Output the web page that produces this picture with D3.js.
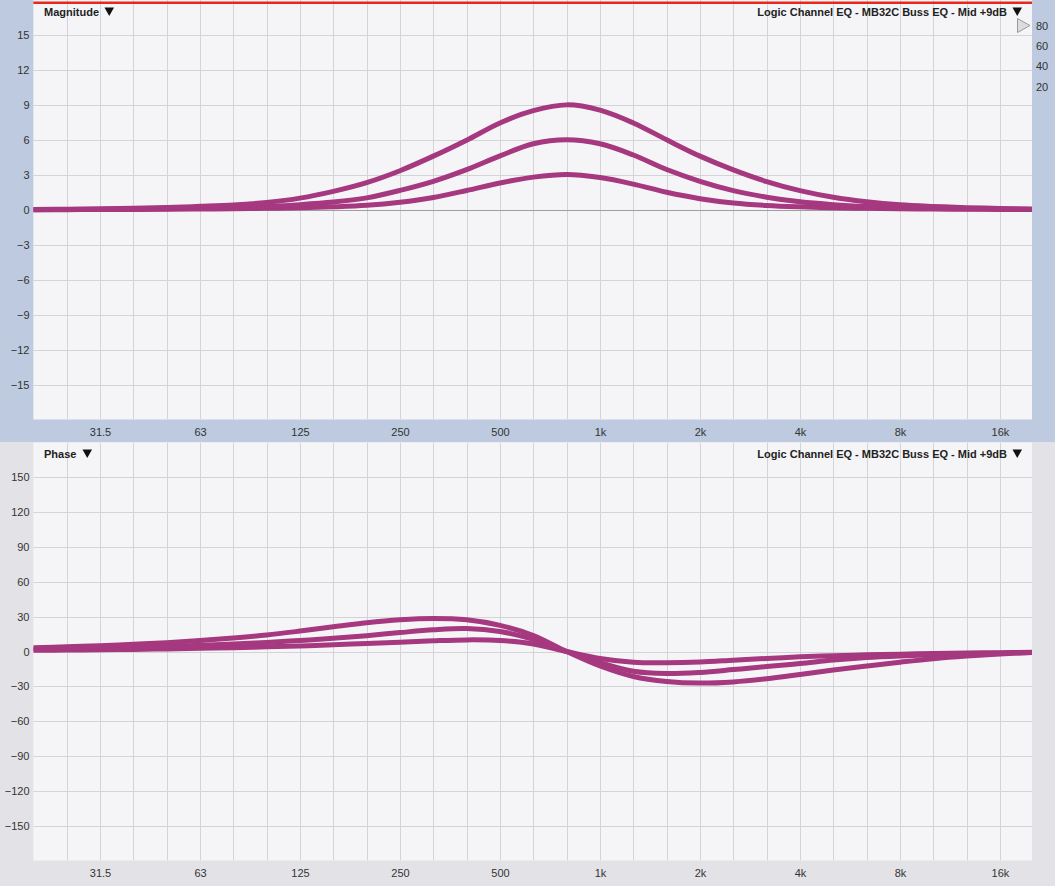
<!DOCTYPE html>
<html><head><meta charset="utf-8">
<script src="https://cdn.jsdelivr.net/npm/d3@7"></script>
<style>
html,body{margin:0;padding:0;background:#fff;}
svg{display:block;font-family:"Liberation Sans",Arial,Helvetica,sans-serif;}
</style></head>
<body><svg id="c" width="1055" height="886"></svg>
<script>
// ---- data ----
const freqs = [20, 25.2, 31.7, 40, 50.4, 63.5, 80, 100.8, 127, 160, 201.6, 254, 320, 403, 508, 640, 806,
  1016, 1280, 1613, 2032, 2560, 3225, 4064, 5120, 6451, 8128, 10240, 12902, 16255, 20480];
const mag9 = [0.03, 0.05, 0.08, 0.12, 0.19, 0.29, 0.41, 0.63, 1.0, 1.58, 2.33, 3.35, 4.6, 5.97, 7.45, 8.5, 9.0,
  8.55, 7.45, 6.0, 4.6, 3.42, 2.42, 1.64, 1.07, 0.68, 0.42, 0.28, 0.18, 0.11, 0.06];
const mag6 = [0.01, 0.02, 0.03, 0.05, 0.08, 0.13, 0.19, 0.29, 0.44, 0.66, 1.02, 1.66, 2.44, 3.44, 4.62, 5.66, 6.0,
  5.66, 4.7, 3.45, 2.44, 1.64, 1.08, 0.68, 0.44, 0.28, 0.18, 0.12, 0.08, 0.05, 0.03];
const mag3 = [0.01, 0.01, 0.02, 0.03, 0.04, 0.06, 0.09, 0.12, 0.17, 0.25, 0.38, 0.64, 1.05, 1.65, 2.3, 2.8, 3.03,
  2.76, 2.2, 1.5, 0.95, 0.58, 0.37, 0.25, 0.17, 0.12, 0.08, 0.06, 0.04, 0.03, 0.02];
const phase9 = [3.3, 4.1, 5.0, 6.2, 7.6, 9.4, 11.6, 14.2, 17.6, 21.3, 24.8, 27.3, 28.4, 27.3, 22.5, 13.8, 0,
  -12.5, -21.5, -25.8, -27.2, -26.2, -23.5, -19.8, -16, -12.5, -9.2, -6.2, -3.9, -2.1, -0.8];
const phase6 = [2.0, 2.5, 3.0, 3.6, 4.4, 5.3, 6.4, 7.8, 9.5, 11.4, 13.6, 16.3, 18.7, 19.8, 17.2, 10.5, 0,
  -9.5, -17.0, -19.0, -18.0, -15.6, -13, -10.4, -7.4, -5.2, -3.8, -2.8, -2, -1.4, -0.8];
const phase3 = [1.0, 1.2, 1.5, 1.8, 2.2, 2.7, 3.3, 4.0, 4.8, 5.8, 6.9, 8.0, 9.2, 10.0, 9.5, 6.5, 0,
  -6.0, -9.2, -9.6, -9.0, -7.5, -6.0, -4.6, -3.6, -2.9, -2.3, -1.7, -1.3, -1.0, -0.6];
const tickFreqs = [31.75, 63.5, 127, 254, 508, 1016, 2032, 4064, 8128, 16255];
const tickLabels = ["31.5", "63", "125", "250", "500", "1k", "2k", "4k", "8k", "16k"];
const magTicks = [15, 12, 9, 6, 3, 0, -3, -6, -9, -12, -15];
const phaseTicks = [150, 120, 90, 60, 30, 0, -30, -60, -90, -120, -150];
const levelTicks = [80, 60, 40, 20];
const titleMag = "Magnitude";
const titlePhase = "Phase";
const plotName = "Logic Channel EQ - MB32C Buss EQ - Mid +9dB";

// ---- layout ----
const svg = d3.select("#c");
const X0 = 33.33, X1 = 1032;
const LINE = "#a5387f";
const GRID = "#d3d3d8";
const x = d3.scaleLog().domain([20, 20480]).range([X0, 1033.33]);
const gridFreqs = d3.range(1, 30).map(k => 20 * Math.pow(2, k / 3));

const panels = [
  {top: 0, bottom: 419.5, band: "#bdcadf", yDomain: [-18, 18], ticks: magTicks,
   series: [mag3, mag6, mag9], title: titleMag, titleTri: 104.5, labelY: 436, zeroDark: true, yEnd: 442},
  {top: 442.5, bottom: 860.5, band: "#e3e3e7", yDomain: [-180, 180], ticks: phaseTicks,
   series: [phase3, phase6, phase9], title: titlePhase, titleTri: 82.5, labelY: 877, zeroDark: false, yEnd: 886}
];

panels.forEach((p, i) => {
  const g = svg.append("g");
  const y = d3.scaleLinear().domain(p.yDomain).range([p.bottom, p.top]);
  const bandTop = i === 0 ? 0 : 442;
  g.append("rect").attr("x", 0).attr("y", bandTop).attr("width", 1055).attr("height", p.yEnd - bandTop).attr("fill", p.band);
  g.append("rect").attr("x", X0).attr("y", p.top).attr("width", X1 - X0).attr("height", p.bottom - p.top).attr("fill", "#f5f5f7");

  const clipId = "clip" + i;
  svg.append("clipPath").attr("id", clipId).append("rect")
    .attr("x", X0).attr("y", p.top).attr("width", X1 - X0).attr("height", p.bottom - p.top);
  const pg = g.append("g").attr("clip-path", `url(#${clipId})`);

  // vertical grid (third octaves)
  pg.selectAll("line.v").data(gridFreqs).join("line")
    .attr("x1", d => Math.round(x(d)) + 0.5).attr("x2", d => Math.round(x(d)) + 0.5)
    .attr("y1", p.top).attr("y2", p.bottom).attr("stroke", GRID).attr("stroke-width", 1);
  // horizontal grid
  pg.selectAll("line.h").data(p.ticks).join("line")
    .attr("x1", X0).attr("x2", X1)
    .attr("y1", d => Math.round(y(d)) + 0.5).attr("y2", d => Math.round(y(d)) + 0.5)
    .attr("stroke", d => (d === 0 && p.zeroDark) ? "#9d9d9d" : GRID).attr("stroke-width", 1);

  // curves
  const line = d3.line().x(d => x(d[0])).y(d => y(d[1])).curve(d3.curveCatmullRom.alpha(0.5));
  p.series.forEach(s => {
    pg.append("path").datum(freqs.map((f, j) => [f, s[j]]))
      .attr("d", line).attr("fill", "none").attr("stroke", LINE)
      .attr("stroke-width", 5).attr("stroke-linejoin", "round").attr("stroke-linecap", "butt");
  });

  // y axis
  const ya = d3.axisLeft(y).tickValues(p.ticks).tickSize(0).tickPadding(0);
  const yg = g.append("g").attr("transform", "translate(29.5,0)").call(ya);
  yg.select(".domain").remove();
  yg.selectAll("text").attr("font-size", 11).attr("fill", "#333")
    .attr("font-family", "'Liberation Sans',Arial,sans-serif");

  // x axis
  const xa = d3.axisBottom(x).tickValues(tickFreqs).tickSize(0).tickPadding(0)
    .tickFormat((d, j) => tickLabels[j]);
  const xg = g.append("g").attr("transform", `translate(0,${p.labelY - 9})`).call(xa);
  xg.select(".domain").remove();
  xg.selectAll("text").attr("font-size", 11).attr("fill", "#333").attr("dy", "0")
    .attr("y", 9).attr("font-family", "'Liberation Sans',Arial,sans-serif");

  // titles
  const ty = p.top + (i === 0 ? 16 : 15.5);
  g.append("text").attr("x", 44).attr("y", ty).attr("font-size", 11).attr("font-weight", "bold")
    .attr("fill", "#222").text(p.title);
  g.append("path").attr("d", `M${p.titleTri},${ty - 8.5} h9.5 l-4.75,8.5 Z`).attr("fill", "#111");
  g.append("text").attr("x", 1007).attr("y", ty).attr("text-anchor", "end").attr("font-size", 11)
    .attr("font-weight", "bold").attr("fill", "#222").text(plotName);
  g.append("path").attr("d", `M1012.5,${ty - 8.5} h9.5 l-4.75,8.5 Z`).attr("fill", "#111");
});

// red clip indicator at top of magnitude plot
svg.append("line").attr("x1", X0).attr("x2", X1).attr("y1", 2.8).attr("y2", 2.8)
  .attr("stroke", "#e5291f").attr("stroke-width", 2.6);

// right-hand level scale
const lv = d3.scaleLinear().domain([20, 80]).range([86.5, 25.5]);
svg.append("g").selectAll("text").data(levelTicks).join("text")
  .attr("x", 1036).attr("y", d => lv(d) + 4).attr("font-size", 11).attr("fill", "#333").text(d => d);
svg.append("path").attr("d", `M1017.5,${lv(80) - 7} L1030,${lv(80)} L1017.5,${lv(80) + 7} Z`)
  .attr("fill", "#dcdcdc").attr("stroke", "#9a9a9a").attr("stroke-width", 1);
</script></body></html>
